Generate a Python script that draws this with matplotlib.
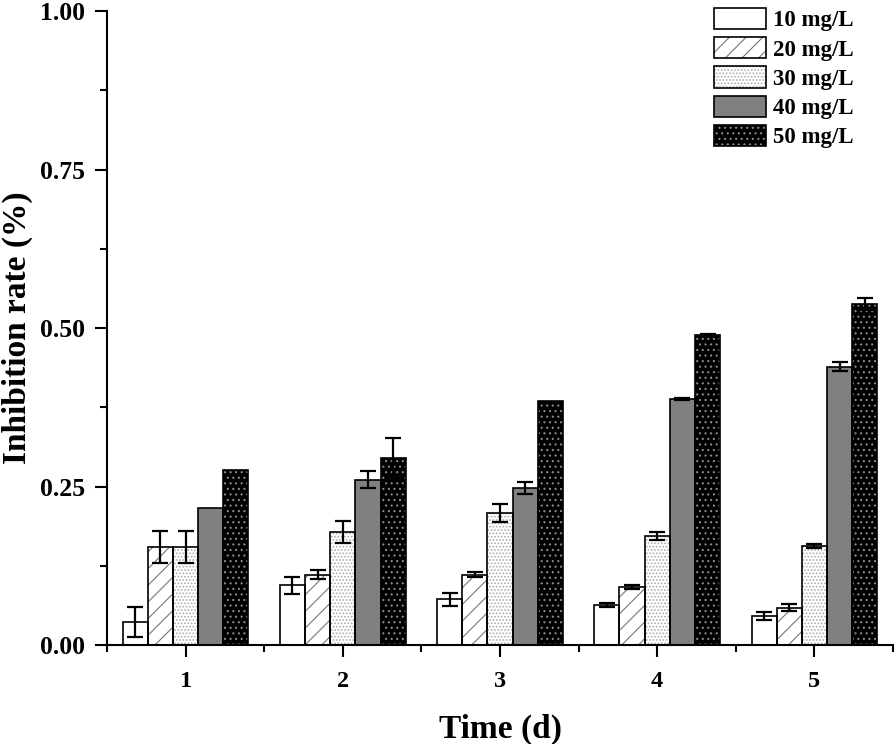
import numpy as np
import matplotlib
matplotlib.use('Agg')
import matplotlib.pyplot as plt
from matplotlib.patches import Patch
from matplotlib.legend_handler import HandlerTuple
from matplotlib.ticker import MultipleLocator, FixedLocator, FormatStrFormatter

plt.rcParams['font.family'] = ['Liberation Serif', 'DejaVu Serif']
plt.rcParams['font.weight'] = 'bold'
plt.rcParams['hatch.linewidth'] = 0.8

# 数据
days = [1, 2, 3, 4, 5]
labels = ['10 mg/L', '20 mg/L', '30 mg/L', '40 mg/L', '50 mg/L']
d10 = [0.036, 0.094, 0.072, 0.063, 0.046]
e10 = [0.024, 0.014, 0.010, 0.003, 0.006]
d20 = [0.155, 0.111, 0.111, 0.092, 0.059]
e20 = [0.025, 0.007, 0.004, 0.003, 0.006]
d30 = [0.155, 0.178, 0.208, 0.172, 0.156]
e30 = [0.025, 0.017, 0.014, 0.006, 0.003]
d40 = [0.216, 0.261, 0.248, 0.388, 0.439]
e40 = [0.0, 0.014, 0.009, 0.002, 0.007]
d50 = [0.276, 0.295, 0.385, 0.489, 0.538]
e50 = [0.0, 0.032, 0.0, 0.002, 0.010]

series = [d10, d20, d30, d40, d50]
errors = [e10, e20, e30, e40, e50]
# 填充样式: 底色, 图案, 图案颜色
styles = [
    ('white', '', 'black'),
    ('white', '//', '#777777'),
    ('white', '.....', '#aaaaaa'),
    ('#808080', '', 'black'),
    ('black', '...', '#8a8a8a'),
]

fig = plt.figure(figsize=(8.96, 7.44), dpi=100)
ax = fig.add_axes([0.1194, 0.133, 0.8773, 0.852])

x = np.array(days, dtype=float)
w = 0.16
handles = []
for i, (vals, errs, (fc, hatch, hc)) in enumerate(zip(series, errors, styles)):
    pos = x + (i - 2) * w
    # 先画图案, 再画黑色边框
    ax.bar(pos, vals, w, color=fc, hatch=hatch, edgecolor=hc, linewidth=0, zorder=2)
    ax.bar(pos, vals, w, fill=False, edgecolor='black', linewidth=1.2, zorder=3)
    errs = np.array(errs)
    m = errs > 0
    ax.errorbar(pos[m], np.array(vals)[m], yerr=errs[m], fmt='none', ecolor='black',
                elinewidth=1.6, capsize=5.5, capthick=1.6, zorder=4)
    h1 = Patch(facecolor=fc, hatch=hatch, edgecolor=hc, linewidth=0)
    h2 = Patch(fill=False, edgecolor='black', linewidth=1.2)
    handles.append((h1, h2))

ax.set_xlim(0.5, 5.5)
ax.set_ylim(0, 1.0)
ax.set_xticks(days)
ax.xaxis.set_minor_locator(FixedLocator([0.5, 1.5, 2.5, 3.5, 4.5, 5.5]))
ax.yaxis.set_major_locator(MultipleLocator(0.25))
ax.yaxis.set_minor_locator(MultipleLocator(0.125))
ax.yaxis.set_major_formatter(FormatStrFormatter('%.2f'))

for s in ['top', 'right']:
    ax.spines[s].set_visible(False)
for s in ['left', 'bottom']:
    ax.spines[s].set_linewidth(1.5)
ax.tick_params(which='major', direction='out', length=8.5, width=1.5, labelsize=18.5)
ax.tick_params(which='minor', direction='out', length=5, width=1.5)
ax.tick_params(axis='y', which='major', pad=7)
ax.tick_params(axis='x', which='major', pad=10.5, labelsize=17.5)

ax.set_xlabel('Time (d)', fontsize=24, fontweight='bold', labelpad=15)
ax.set_ylabel('Inhibition rate (%)', fontsize=24, fontweight='bold', labelpad=5)

ax.legend(handles, labels, handler_map={tuple: HandlerTuple(ndivide=1, pad=0)},
          loc='upper left', bbox_to_anchor=(0.772, 1.005), borderaxespad=0,
          borderpad=0, frameon=False, fontsize=16.5, handlelength=2.27,
          handleheight=1.05, handletextpad=0.3, labelspacing=0.25)

fig.savefig('out.png', dpi=100)
